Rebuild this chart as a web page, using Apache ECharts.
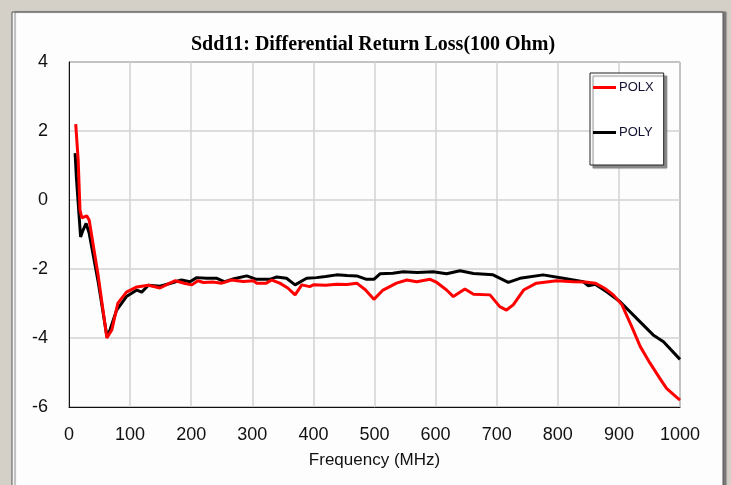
<!DOCTYPE html>
<html>
<head>
<meta charset="utf-8">
<script src="https://cdn.jsdelivr.net/npm/echarts@6/dist/echarts.min.js"></script>
<style>
  html, body { margin: 0; padding: 0; background: #d4d0c8; }
  #chart { width: 731px; height: 485px; }
</style>
</head>
<body>
<div id="chart"></div>
<script>
// Differential return loss sweep, two polarisations
const chartTitle = 'Sdd11: Differential Return Loss(100 Ohm)';
const xAxisName = 'Frequency (MHz)';
const seriesNames = ['POLX', 'POLY'];

// Axis ticks
const xTicks = [0, 100, 200, 300, 400, 500, 600, 700, 800, 900, 1000];
const yTicks = [-6, -4, -2, 0, 2, 4];

// POLX measurement (frequency in MHz, loss in dB)
const polxFreq = [11, 15, 18, 21, 29, 33, 48, 62, 70, 80,
  94, 111, 130, 149, 165, 174, 190, 201, 211, 220,
  235, 250, 266, 285, 302, 307, 323, 332, 345, 358,
  370, 381, 394, 400, 420, 438, 455, 471, 485, 499,
  514, 536, 553, 569, 591, 602, 618, 629, 648, 662,
  689, 705, 716, 727, 744, 765, 798, 825, 845, 861,
  876, 891, 905, 921, 935, 951, 967, 978, 990, 1000];
const polxLoss = [2.2, 1.16, -0.29, -0.52, -0.46, -0.58, -2.22, -4.0, -3.77, -2.99,
  -2.67, -2.52, -2.47, -2.55, -2.41, -2.34, -2.42, -2.46, -2.34, -2.39,
  -2.38, -2.41, -2.32, -2.36, -2.34, -2.41, -2.41, -2.32, -2.41, -2.55,
  -2.75, -2.46, -2.51, -2.46, -2.47, -2.44, -2.45, -2.41, -2.6, -2.88,
  -2.61, -2.41, -2.32, -2.37, -2.30, -2.39, -2.61, -2.80, -2.58, -2.73,
  -2.75, -3.09, -3.19, -3.04, -2.61, -2.41, -2.34, -2.37, -2.38, -2.41,
  -2.55, -2.75, -3.04, -3.67, -4.25, -4.73, -5.17, -5.46, -5.65, -5.80];

// POLY measurement (frequency in MHz, loss in dB)
const polyFreq = [10, 12, 17, 19, 23, 28, 33, 48, 62, 67,
  78, 94, 111, 119, 130, 149, 165, 184, 198, 209,
  225, 242, 255, 270, 291, 307, 329, 340, 356, 370,
  389, 405, 420, 438, 455, 471, 487, 499, 509, 530,
  547, 570, 596, 618, 640, 662, 694, 719, 738, 776,
  809, 842, 850, 861, 880, 902, 929, 956, 973, 1000];
const polyLoss = [1.36, 0.68, -0.58, -1.07, -0.87, -0.68, -0.96, -2.4, -3.95, -3.77,
  -3.19, -2.8, -2.61, -2.67, -2.47, -2.5, -2.42, -2.32, -2.37, -2.25,
  -2.27, -2.27, -2.37, -2.28, -2.20, -2.30, -2.30, -2.23, -2.27, -2.46,
  -2.27, -2.25, -2.22, -2.17, -2.19, -2.20, -2.30, -2.30, -2.14, -2.12,
  -2.08, -2.10, -2.08, -2.14, -2.05, -2.13, -2.17, -2.39, -2.27, -2.17,
  -2.27, -2.37, -2.49, -2.44, -2.66, -2.95, -3.43, -3.91, -4.11, -4.62];

const zip = (xs, ys) => xs.map((x, i) => [x, ys[i]]);

const chart = echarts.init(document.getElementById('chart'), null, { renderer: 'canvas' });

const labelFont = { fontFamily: 'Liberation Sans, Arial, sans-serif', fontSize: 18, color: '#111' };

chart.setOption({
  backgroundColor: '#d4d0c8',
  animation: false,
  graphic: [{
    type: 'rect',
    z: -10,
    shape: { x: 12, y: 12, width: 711, height: 490 },
    style: {
      fill: '#fdfdfd', stroke: '#555', lineWidth: 1,
      shadowColor: '#7a7a7a', shadowOffsetX: 3, shadowOffsetY: 0, shadowBlur: 1
    }
  }],
  title: {
    text: chartTitle,
    left: 373,
    top: 35,
    textAlign: 'center',
    padding: 0,
    textStyle: { fontFamily: 'Liberation Serif, Times New Roman, serif', fontWeight: 'bold', fontSize: 20, color: '#000' }
  },
  legend: {
    data: seriesNames,
    orient: 'vertical',
    left: 590,
    top: 73,
    padding: [8, 10, 26, 3],
    itemGap: 32,
    itemWidth: 23,
    itemHeight: 3,
    icon: 'rect',
    backgroundColor: '#fff',
    borderColor: '#222',
    borderWidth: 1,
    borderRadius: 0,
    shadowColor: '#888',
    shadowOffsetX: 3,
    shadowOffsetY: 3,
    shadowBlur: 1,
    textStyle: { fontFamily: 'Liberation Sans, Arial, sans-serif', fontSize: 13, color: '#101030', padding: [0, 0, 0, -2] }
  },
  grid: {
    left: 69, top: 62, right: 51, bottom: 78,
    show: true, borderColor: '#333', borderWidth: 1, backgroundColor: 'transparent'
  },
  xAxis: {
    type: 'value',
    min: xTicks[0],
    max: xTicks[xTicks.length - 1],
    interval: xTicks[1] - xTicks[0],
    name: xAxisName,
    nameLocation: 'middle',
    nameGap: 45,
    nameTextStyle: { fontFamily: 'Liberation Sans, Arial, sans-serif', fontSize: 17, color: '#111' },
    axisLine: { show: true, onZero: false, lineStyle: { color: '#111', width: 1 } },
    axisTick: { show: false },
    axisLabel: Object.assign({ margin: 19, formatter: v => String(v) }, labelFont),
    splitLine: { show: true, lineStyle: { color: '#d2d2d2', width: 1.5 } }
  },
  yAxis: {
    type: 'value',
    min: yTicks[0],
    max: yTicks[yTicks.length - 1],
    interval: yTicks[1] - yTicks[0],
    axisLine: { show: true, onZero: false, lineStyle: { color: '#111', width: 1 } },
    axisTick: { show: false },
    axisLabel: Object.assign({ margin: 21, formatter: v => String(v) }, labelFont),
    splitLine: { show: true, lineStyle: { color: '#d2d2d2', width: 1.5 } }
  },
  series: [
    {
      name: seriesNames[1],
      type: 'line',
      data: zip(polyFreq, polyLoss),
      symbol: 'none',
      z: 3,
      color: '#000',
      lineStyle: { color: '#000', width: 3 }
    },
    {
      name: seriesNames[0],
      type: 'line',
      data: zip(polxFreq, polxLoss),
      symbol: 'none',
      z: 4,
      color: '#ff0000',
      lineStyle: { color: '#ff0000', width: 3 }
    }
  ]
});
</script>
</body>
</html>
